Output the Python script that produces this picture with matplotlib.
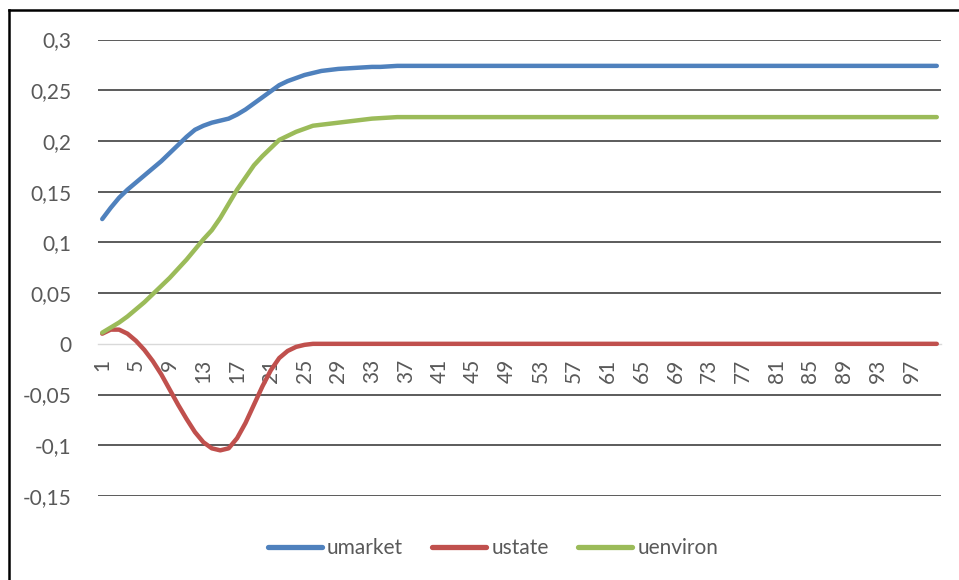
import matplotlib.pyplot as plt
from matplotlib.lines import Line2D

# values, periods 1..100
periods = list(range(1, 101))

umarket = [0.123, 0.134, 0.144, 0.152, 0.159, 0.166, 0.173, 0.180, 0.188, 0.196,
           0.204, 0.211, 0.215, 0.218, 0.220, 0.222, 0.226, 0.231, 0.237, 0.243,
           0.249, 0.255, 0.259, 0.262, 0.265, 0.267, 0.269, 0.270, 0.271, 0.2715,
           0.272, 0.2725, 0.273, 0.273, 0.2735, 0.274] + [0.274] * 64

ustate = [0.010, 0.014, 0.014, 0.010, 0.003, -0.006, -0.017, -0.030, -0.045, -0.060,
          -0.074, -0.087, -0.097, -0.103, -0.105, -0.103, -0.093, -0.078, -0.060, -0.042,
          -0.026, -0.014, -0.007, -0.003, -0.001] + [0.0] * 75

uenviron = [0.011, 0.016, 0.021, 0.027, 0.034, 0.041, 0.049, 0.057, 0.065, 0.074,
            0.083, 0.093, 0.103, 0.112, 0.124, 0.138, 0.152, 0.164, 0.176, 0.185,
            0.193, 0.201, 0.205, 0.209, 0.212, 0.215, 0.216, 0.217, 0.218, 0.219,
            0.220, 0.221, 0.222, 0.2225, 0.223, 0.2235] + [0.2235] * 64

series_names = ["umarket", "ustate", "uenviron"]
colors = ["#4F81BD", "#C0504D", "#9BBB59"]
y_ticks = [-0.15, -0.1, -0.05, 0, 0.05, 0.1, 0.15, 0.2, 0.25, 0.3]
x_ticks = list(range(1, 101, 4))

plt.rcParams['font.family'] = ['Lato', 'DejaVu Sans']

W, H = 959, 580
fig = plt.figure(figsize=(W / 100, H / 100), dpi=100)
ax = fig.add_axes([98 / W, (H - 496) / H, (941 - 98) / W, (496 - 39.5) / H])

for vals, name, c in zip([umarket, ustate, uenviron], series_names, colors):
    ax.plot(periods, vals, color=c, lw=3.2, solid_capstyle='round',
            solid_joinstyle='round', label=name, zorder=3)

ax.set_xlim(0.5, 100.5)
ax.set_ylim(-0.15, 0.3)

# horizontal gridlines
for t in y_ticks:
    if t != 0:
        ax.axhline(t, color="#404040", lw=1.2, zorder=1)

for s in ['top', 'right', 'left']:
    ax.spines[s].set_visible(False)
ax.spines['bottom'].set_position(('data', 0))
ax.spines['bottom'].set_color("#D9D9D9")
ax.spines['bottom'].set_linewidth(1.0)

ax.set_yticks(y_ticks)
ax.set_yticklabels([("%g" % t).replace('.', ',') for t in y_ticks])
ax.set_xticks(x_ticks)
ax.set_xticklabels([str(t) for t in x_ticks], rotation=90)
ax.tick_params(axis='y', length=0, pad=19, labelsize=15, labelcolor="#595959")
ax.tick_params(axis='x', length=0, pad=11, labelsize=15, labelcolor="#595959")

handles = [Line2D([], [], color=c, lw=3.8, solid_capstyle='round') for c in colors]
fig.legend(handles, series_names, loc='center', bbox_to_anchor=(493 / W, 1 - 548 / H),
           ncol=3, frameon=False, fontsize=15, handlelength=2.6, handletextpad=0.25,
           columnspacing=1.4, labelcolor="#595959")

# outer chart frame (only left and top edges are visible in the crop)
fig.add_artist(Line2D([8.5 / W, 8.5 / W], [0, 1 - 9.5 / H], color='black', lw=1.8,
                      transform=fig.transFigure))
fig.add_artist(Line2D([8.5 / W, 1], [1 - 9.5 / H, 1 - 9.5 / H], color='black', lw=1.8,
                      transform=fig.transFigure))

fig.savefig("out.png", dpi=100)
